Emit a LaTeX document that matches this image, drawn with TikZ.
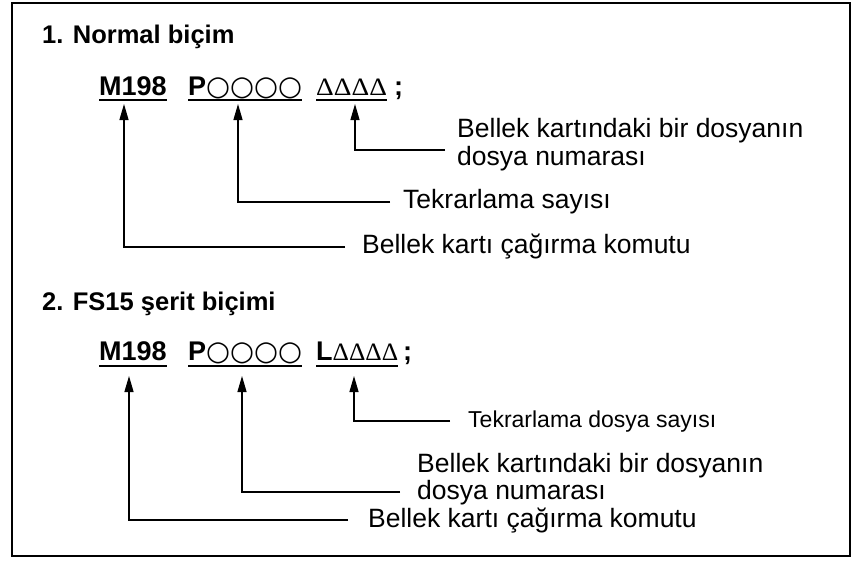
\documentclass[tikz,border=0pt]{standalone}
\usepackage{fontspec}
\usepackage{graphicx}
\setmainfont{Liberation Sans}
\newfontfamily\circfont{DejaVu Sans}
\newfontfamily\deltafont{Liberation Serif}
\usetikzlibrary{arrows.meta,calc}
\newcommand{\circs}{{\circfont\mdseries\fontsize{27.5}{28}\selectfont ○○○○}}
\newcommand{\deltasA}{{\deltafont\mdseries\fontsize{25}{26}\selectfont\scalebox{1.1}[1]{ΔΔΔΔ}}}
\newcommand{\deltasB}{{\deltafont\mdseries\fontsize{25}{26}\selectfont\scalebox{1.02}[1]{ΔΔΔΔ}}}
\begin{document}
\begin{tikzpicture}[x=1pt,y=-1pt,
  lbl/.style={font=\fontsize{26.5}{28}\selectfont, inner sep=0pt, anchor=base west},
  smalllbl/.style={font=\fontsize{23}{24}\selectfont, inner sep=0pt, anchor=base west},
  ttl/.style={font=\bfseries\fontsize{25.5}{28}\selectfont, inner sep=0pt, anchor=base west},
  code/.style={font=\bfseries\fontsize{27}{28}\selectfont, inner sep=0pt, anchor=base west},
  uline/.style={line width=1.3pt},
  arr/.style={line width=1.3pt, -{Triangle[length=16pt,width=9pt]}},
]
\useasboundingbox (0,0) rectangle (858,560);
\draw[line width=1.6pt] (12,3) rectangle (850,556);

% ---------- section 1 ----------
\node[ttl] (t1) at (42,43) {1. Normal biçim};
\node[code] (a1) at (99,95) {M198};
\node[code] (b1) at (188,95) {P\circs};
\node[code] (c1) at (316,95) {\deltasA};
\node[code] (d1) at (394,95) {;};
\foreach \n in {a1,b1,c1}
  \draw[uline] ([yshift=-5pt]\n.base west) -- ([yshift=-5pt]\n.base east);

\coordinate (pa1) at (124,104);
\coordinate (pb1) at (238,104);
\coordinate (pc1) at (355,104);

\node[lbl] (l1a) at (457,137) {Bellek kartındaki bir dosyanın};
\node[lbl] (l1b) at (457,165) {dosya numarası};
\node[lbl] (l2) at (403,208) {Tekrarlama sayısı};
\node[lbl] (l3) at (362,253) {Bellek kartı çağırma komutu};

\draw[arr] ([xshift=-12pt,yshift=15pt]l1b.base west) -| (pc1);
\draw[arr] ([xshift=-13pt,yshift=6pt]l2.base west) -| (pb1);
\draw[arr] ([xshift=-17pt,yshift=6pt]l3.base west) -| (pa1);

% ---------- section 2 ----------
\node[ttl] (t2) at (42,310) {2. FS15 şerit biçimi};
\node[code] (a2) at (99,360) {M198};
\node[code] (b2) at (188,360) {P\circs};
\node[code] (c2) at (316,360) {L\deltasB};
\node[code] (d2) at (403,360) {;};
\foreach \n in {a2,b2,c2}
  \draw[uline] ([yshift=-6pt]\n.base west) -- ([yshift=-6pt]\n.base east);

\coordinate (pa2) at (129,376);
\coordinate (pb2) at (242,376);
\coordinate (pc2) at (354,376);

\node[smalllbl] (l4) at (468,427) {Tekrarlama dosya sayısı};
\node[lbl] (l5a) at (417,472) {Bellek kartındaki bir dosyanın};
\node[lbl] (l5b) at (417,499) {dosya numarası};
\node[lbl] (l6) at (368,527) {Bellek kartı çağırma komutu};

\draw[arr] ([xshift=-18pt,yshift=6pt]l4.base west) -| (pc2);
\draw[arr] ([xshift=-17pt,yshift=7pt]l5b.base west) -| (pb2);
\draw[arr] ([xshift=-20pt,yshift=7pt]l6.base west) -| (pa2);
\end{tikzpicture}
\end{document}
